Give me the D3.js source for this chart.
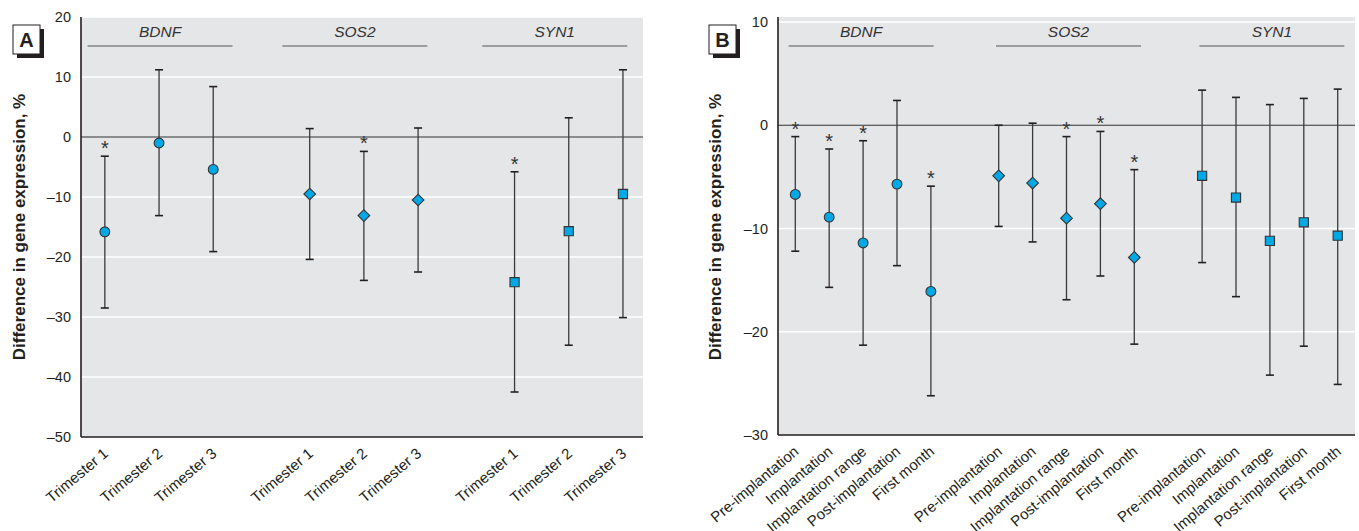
<!DOCTYPE html>
<html><head><meta charset="utf-8">
<script src="https://cdn.jsdelivr.net/npm/d3@7"></script>
<style>body{margin:0;background:#fff} svg{display:block}</style>
</head><body><svg id="c" width="1359" height="531"></svg>
<script>
// ---------- DATA ----------
const genes = ["BDNF", "SOS2", "SYN1"];
const trimesters = ["Trimester 1", "Trimester 2", "Trimester 3"];
const periods = ["Pre-implantation", "Implantation", "Implantation range", "Post-implantation", "First month"];

// Panel A (per gene: BDNF, SOS2, SYN1)
const aMean = [[-15.8, -1.0, -5.4], [-9.5, -13.1, -10.5], [-24.2, -15.7, -9.5]];
const aLow  = [[-28.5, -13.1, -19.1], [-20.4, -23.9, -22.5], [-42.5, -34.7, -30.1]];
const aHigh = [[-3.2, 11.2, 8.4], [1.4, -2.4, 1.5], [-5.8, 3.2, 11.2]];
const aSig  = [[1, 0, 0], [0, 1, 0], [1, 0, 0]];

// Panel B
const bMean = [[-6.7, -8.9, -11.4, -5.7, -16.1], [-4.9, -5.6, -9.0, -7.6, -12.8], [-4.9, -7.0, -11.2, -9.4, -10.7]];
const bLow  = [[-12.2, -15.7, -21.3, -13.6, -26.2], [-9.8, -11.3, -16.9, -14.6, -21.2], [-13.3, -16.6, -24.2, -21.4, -25.1]];
const bHigh = [[-1.1, -2.3, -1.5, 2.4, -5.9], [0.0, 0.2, -1.1, -0.6, -4.3], [3.4, 2.7, 2.0, 2.6, 3.5]];
const bSig  = [[1, 1, 1, 0, 1], [0, 0, 1, 1, 1], [0, 0, 0, 0, 0]];

const yTicksA = [20, 10, 0, -10, -20, -30, -40, -50];
const yTicksB = [10, 0, -10, -20, -30];

// ---------- STYLE ----------
const FONT = "'Liberation Sans Narrow','Arial Narrow','Liberation Sans',sans-serif";
const BG = "#e5e6e8";
const FILL = "#00a9e6";
const INK = "#231f20";
const shapeOf = [d3.symbolCircle, d3.symbolSquare, d3.symbolSquare];
const sizeOf = [76, 68, 84];
const rotOf = [0, 45, 0];

const svg = d3.select("#c").style("font-family", FONT);

function panel(cfg) {
  const g = svg.append("g");
  const y = d3.scaleLinear().domain(cfg.yDomain).range([cfg.bottom, cfg.yTopPx]);
  const x = d3.scaleLinear().domain(cfg.xDomain).range([cfg.left, cfg.right]);
  const nCat = cfg.cats.length;
  const pos = (gi, i) => gi * (nCat + cfg.gap) + i;

  g.append("rect").attr("x", cfg.left).attr("y", cfg.top)
    .attr("width", cfg.right - cfg.left).attr("height", cfg.bottom - cfg.top).attr("fill", BG);

  g.selectAll("line.grid").data(cfg.ticks.filter(t => t !== 0 && t !== cfg.yDomain[0]))
    .join("line").attr("x1", cfg.left).attr("x2", cfg.right)
    .attr("y1", d => y(d)).attr("y2", d => y(d))
    .attr("stroke", "#fff").attr("stroke-width", 1.5);

  g.append("line").attr("x1", cfg.left).attr("x2", cfg.right)
    .attr("y1", y(0)).attr("y2", y(0)).attr("stroke", "#333").attr("stroke-width", 1.2);

  const yAxis = d3.axisLeft(y).tickValues(cfg.ticks).tickSize(0).tickPadding(10)
    .tickFormat(d => d < 0 ? "\u2013" + Math.abs(d) : String(d));
  const ya = g.append("g").attr("transform", `translate(${cfg.left},0)`).call(yAxis);
  ya.select(".domain").remove();
  ya.selectAll("text").attr("font-size", 14.5).attr("fill", INK).style("font-family", FONT);
  g.append("line").attr("x1", cfg.left).attr("x2", cfg.left).attr("y1", cfg.top).attr("y2", cfg.bottom)
    .attr("stroke", INK).attr("stroke-width", 1.6);
  g.append("line").attr("x1", cfg.left).attr("x2", cfg.right).attr("y1", cfg.bottom).attr("y2", cfg.bottom)
    .attr("stroke", INK).attr("stroke-width", 1.6);

  g.append("text").attr("transform", `translate(${cfg.titleX},${cfg.titleY}) rotate(-90)`)
    .attr("text-anchor", "middle").attr("font-size", 17).attr("font-weight", "bold").attr("fill", INK)
    .text("Difference in gene expression, %");

  g.append("rect").attr("x", cfg.boxX + 4).attr("y", 29).attr("width", 27).attr("height", 29).attr("fill", INK);
  g.append("rect").attr("x", cfg.boxX).attr("y", 25).attr("width", 27).attr("height", 29)
    .attr("fill", "#fff").attr("stroke", INK).attr("stroke-width", 1);
  g.append("text").attr("x", cfg.boxX + 13.5).attr("y", 46.5).attr("text-anchor", "middle")
    .attr("font-size", 20).attr("font-weight", "bold").attr("fill", INK).text(cfg.letter);

  genes.forEach((gene, gi) => {
    const cx = x(pos(gi, (nCat - 1) / 2)) + cfg.labelShift[gi];
    g.append("text").attr("x", cx).attr("y", 37).attr("text-anchor", "middle")
      .attr("font-size", 15.5).attr("font-style", "italic").attr("fill", "#333").text(gene);
    g.append("line").attr("x1", cx - 72.5).attr("x2", cx + 72.5).attr("y1", 46).attr("y2", 46)
      .attr("stroke", "#555").attr("stroke-width", 1.2);

    cfg.cats.forEach((cat, i) => {
      const px = x(pos(gi, i));
      const m = cfg.mean[gi][i], lo = cfg.low[gi][i], hi = cfg.high[gi][i];
      g.append("line").attr("x1", px).attr("x2", px).attr("y1", y(hi)).attr("y2", y(lo))
        .attr("stroke", "#3a3a3a").attr("stroke-width", 1.3);
      [hi, lo].forEach(v => g.append("line").attr("x1", px - 4).attr("x2", px + 4)
        .attr("y1", y(v)).attr("y2", y(v)).attr("stroke", INK).attr("stroke-width", 1.6));
      g.append("path").attr("d", d3.symbol().type(shapeOf[gi]).size(sizeOf[gi])())
        .attr("transform", `translate(${px},${y(m)}) rotate(${rotOf[gi]})`)
        .attr("fill", FILL).attr("stroke", "#333").attr("stroke-width", 1.1);
      if (cfg.sig[gi][i]) {
        g.append("text").attr("x", px).attr("y", y(hi) - 1).attr("text-anchor", "middle")
          .attr("font-size", 20).attr("fill", "#333").text("*");
      }
      g.append("text").attr("transform", `translate(${px + 1},${cfg.bottom + 14}) rotate(-40)`)
        .attr("text-anchor", "end").attr("dy", "0.35em").attr("font-size", 15).attr("fill", INK).text(cat);
    });
  });
}

panel({
  letter: "A", boxX: 13, titleX: 25, titleY: 227,
  left: 81, right: 643, top: 17, bottom: 437, yTopPx: 17,
  yDomain: [-50, 20], ticks: yTicksA,
  cats: trimesters, gap: 0.78, xDomain: [-0.44, 9.93],
  mean: aMean, low: aLow, high: aHigh, sig: aSig,
  labelShift: [1, -9, -14]
});

panel({
  letter: "B", boxX: 709, titleX: 721, titleY: 227,
  left: 778, right: 1355, top: 17, bottom: 435, yTopPx: 22,
  yDomain: [-30, 10], ticks: yTicksB,
  cats: periods, gap: 1, xDomain: [-0.51, 16.51],
  mean: bMean, low: bLow, high: bHigh, sig: bSig,
  labelShift: [-2, 2, 2]
});
</script></body></html>
